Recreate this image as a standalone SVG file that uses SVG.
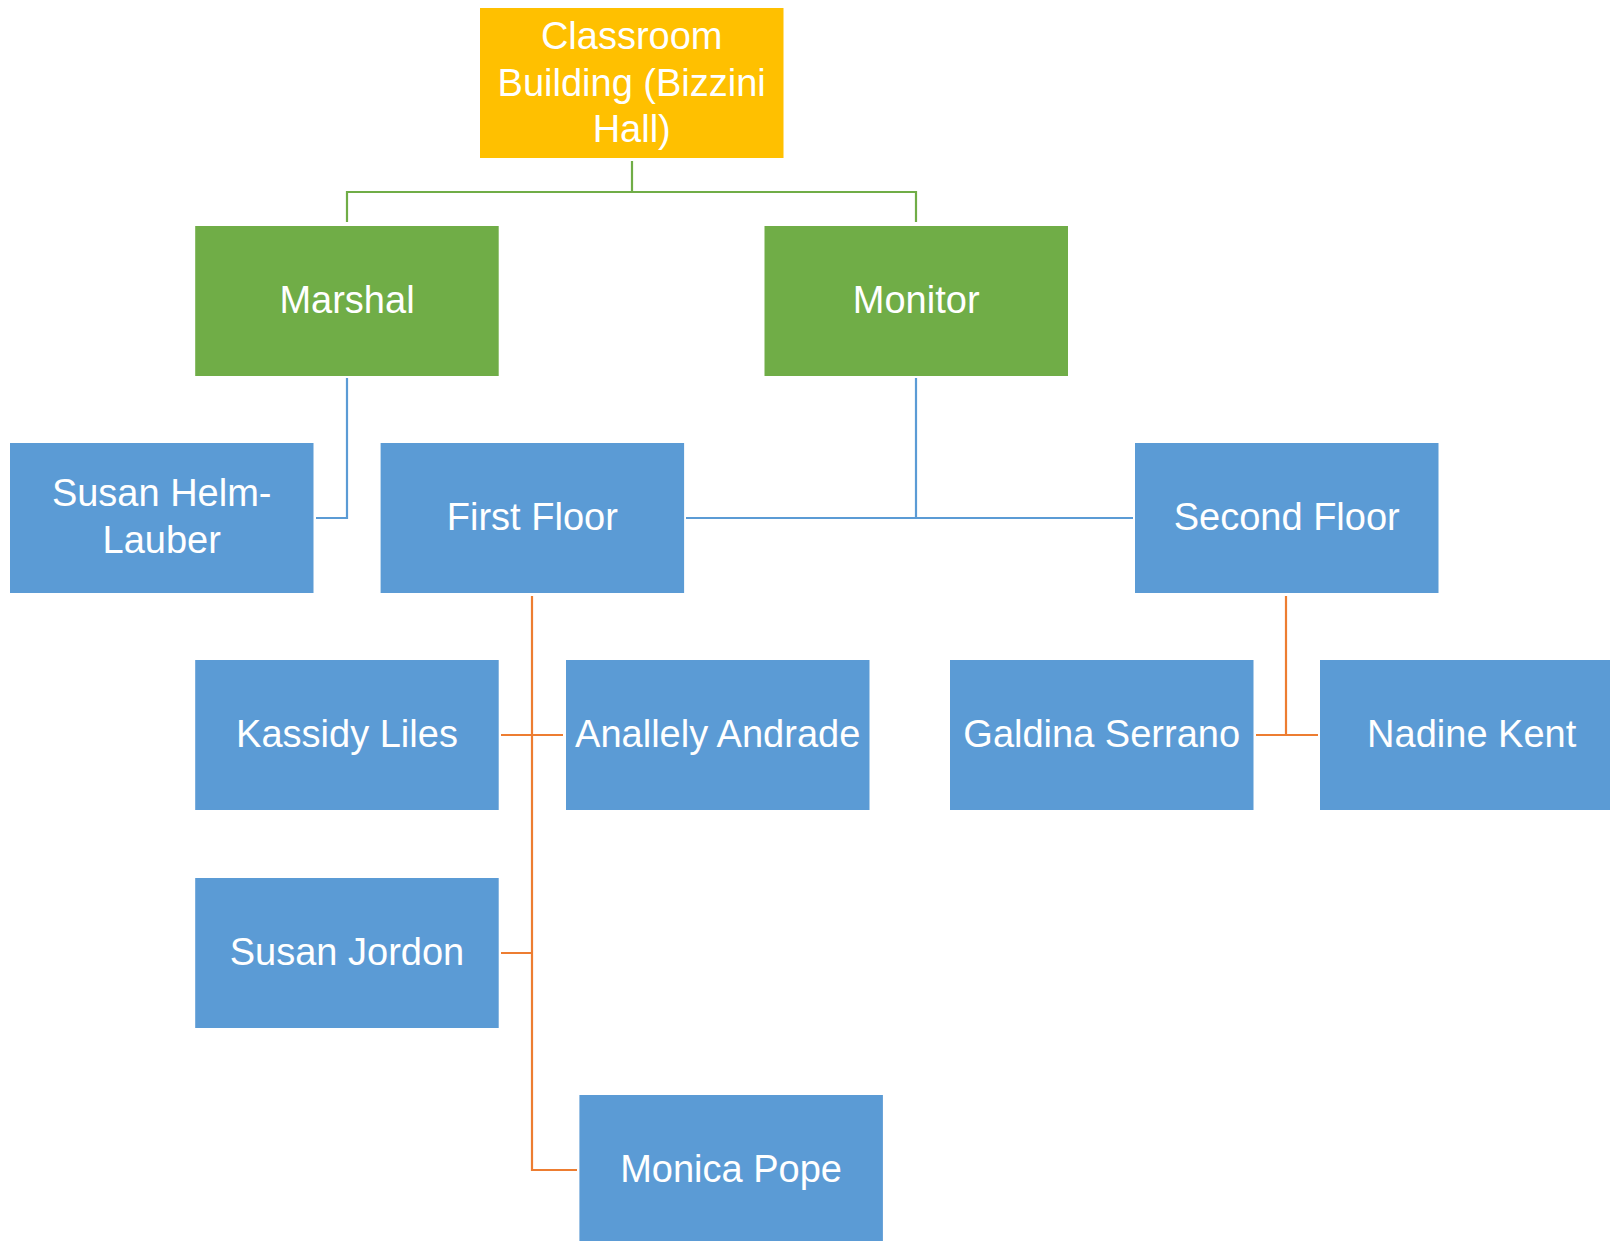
<svg xmlns="http://www.w3.org/2000/svg" width="1610" height="1241" viewBox="0 0 1610 1241">
<style>
.box{stroke:none}
.yel{fill:#FFC000}
.grn{fill:#70AD47}
.blu{fill:#5B9BD5}
.t{font-family:"Liberation Sans",Arial,sans-serif;font-size:38px;fill:#ffffff;text-anchor:middle}
.cg{stroke:#70AD47;stroke-width:2.2;fill:none}
.cb{stroke:#5B9BD5;stroke-width:2.2;fill:none}
.co{stroke:#ED7D31;stroke-width:2.2;fill:none}
</style>
<rect width="1610" height="1241" fill="#ffffff"/>
<g id="connectors">
<path class="cg" d="M632 161V192M347 222V192H916V222"/>
<path class="cb" d="M347 378V518H316"/>
<path class="cb" d="M916 378V518M686 518H1133"/>
<path class="co" d="M532 596V1170H577M501 735H563M501 953H532"/>
<path class="co" d="M1286 596V735M1256 735H1318"/>
</g>
<g id="root">
<rect class="box yel" x="480" y="8" width="303.5" height="150"/>
<text class="t" x="631.7" y="49">Classroom</text>
<text class="t" x="631.7" y="95.5">Building (Bizzini</text>
<text class="t" x="631.7" y="142">Hall)</text>
</g>
<g id="marshal">
<rect class="box grn" x="195.2" y="226" width="303.5" height="150"/>
<text class="t" x="347" y="313">Marshal</text>
</g>
<g id="monitor">
<rect class="box grn" x="764.5" y="226" width="303.5" height="150"/>
<text class="t" x="916.2" y="313">Monitor</text>
</g>
<g id="susan-helm-lauber">
<rect class="box blu" x="10" y="443" width="303.5" height="150"/>
<text class="t" x="161.7" y="506">Susan Helm-</text>
<text class="t" x="161.7" y="553">Lauber</text>
</g>
<g id="first-floor">
<rect class="box blu" x="380.6" y="443" width="303.5" height="150"/>
<text class="t" x="532.3" y="530">First Floor</text>
</g>
<g id="second-floor">
<rect class="box blu" x="1135" y="443" width="303.5" height="150"/>
<text class="t" x="1286.7" y="530">Second Floor</text>
</g>
<g id="kassidy-liles">
<rect class="box blu" x="195.2" y="660" width="303.5" height="150"/>
<text class="t" x="347" y="747">Kassidy Liles</text>
</g>
<g id="anallely-andrade">
<rect class="box blu" x="566" y="660" width="303.5" height="150"/>
<text class="t" x="717.7" y="747">Anallely Andrade</text>
</g>
<g id="galdina-serrano">
<rect class="box blu" x="950" y="660" width="303.5" height="150"/>
<text class="t" x="1101.7" y="747">Galdina Serrano</text>
</g>
<g id="nadine-kent">
<rect class="box blu" x="1320" y="660" width="303.5" height="150"/>
<text class="t" x="1471.7" y="747">Nadine Kent</text>
</g>
<g id="susan-jordon">
<rect class="box blu" x="195.2" y="878" width="303.5" height="150"/>
<text class="t" x="347" y="965">Susan Jordon</text>
</g>
<g id="monica-pope">
<rect class="box blu" x="579.4" y="1095" width="303.5" height="150"/>
<text class="t" x="731.1" y="1182">Monica Pope</text>
</g>
</svg>
